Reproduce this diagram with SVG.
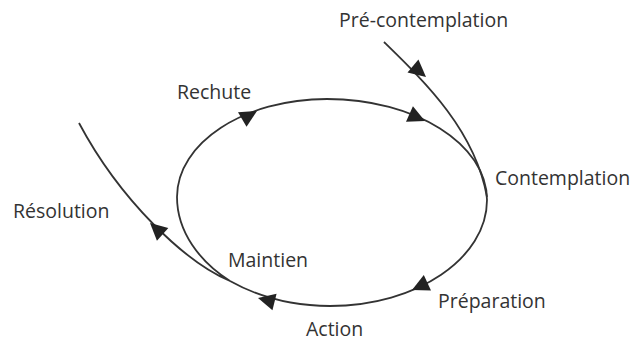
<svg xmlns="http://www.w3.org/2000/svg" xmlns:xlink="http://www.w3.org/1999/xlink" width="640" height="342" viewBox="0 0 640 342">
<style>
.lbl{font-family:"Open Sans","Liberation Sans",sans-serif;font-size:19.5px;fill:#333}
.ln{fill:none;stroke:#333;stroke-width:1.8}
.ah{fill:#222}
</style>
<defs>
<path id="arr" d="M0,0 L-17,-8.5 L-17,8.5 Z"/>
</defs>
<rect width="640" height="342" fill="#fff"/>
<g id="connectors">
<path class="ln" d="M384,42 C425,82 475,130 487,197"/>
<path class="ln" d="M230,281 C200,262 177,232 177,197 C177,143 244,99 327,99 C415,99 487,144 487,200 C487,258 417,306 330,306 C290,306 255,295 230,281 C185,262 120,200 79,123"/>
<use class="ah" xlink:href="#arr" transform="translate(426,77) rotate(40)"/>
<use class="ah" xlink:href="#arr" transform="translate(425,121) rotate(24)"/>
<use class="ah" xlink:href="#arr" transform="translate(257,111) rotate(-30)"/>
<use class="ah" xlink:href="#arr" transform="translate(412,290) rotate(155)"/>
<use class="ah" xlink:href="#arr" transform="translate(258,298) rotate(194)"/>
<use class="ah" xlink:href="#arr" transform="translate(150,223) rotate(222)"/>
</g>
<g id="precontemplation"><text class="lbl" x="339" y="27">Pré-contemplation</text></g>
<g id="contemplation"><text class="lbl" x="495" y="185">Contemplation</text></g>
<g id="preparation"><text class="lbl" x="438" y="308">Préparation</text></g>
<g id="action"><text class="lbl" x="306" y="336">Action</text></g>
<g id="maintien"><text class="lbl" x="228" y="267">Maintien</text></g>
<g id="resolution"><text class="lbl" x="13" y="218">Résolution</text></g>
<g id="rechute"><text class="lbl" x="177" y="99">Rechute</text></g>
</svg>
